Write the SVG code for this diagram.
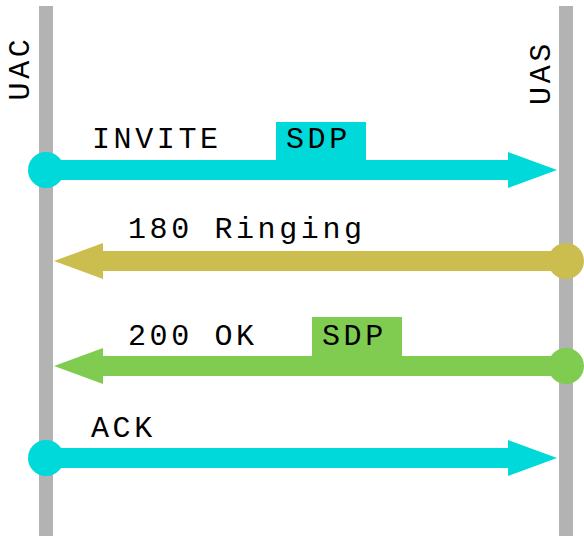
<svg xmlns="http://www.w3.org/2000/svg" width="584" height="536" viewBox="0 0 584 536">
<style>
.life{fill:#b3b3b3}
.t{font-family:"Liberation Mono","Courier New",monospace;font-size:30px;letter-spacing:3.6px;fill:#000}
.cy{fill:#00d9d9}
.ol{fill:#ccbd4f}
.gr{fill:#80cc50}
</style>
<rect width="584" height="536" fill="#fff"/>
<g id="uac">
<rect class="life" x="39" y="6" width="14" height="530"/>
<text class="t" text-anchor="middle" transform="translate(29,68) rotate(-90)">UAC</text>
</g>
<g id="uas">
<rect class="life" x="559" y="6" width="14" height="530"/>
<text class="t" text-anchor="middle" transform="translate(550,72.5) rotate(-90)">UAS</text>
</g>
<g id="connectors">
<g id="invite">
<rect class="cy" x="276" y="122" width="90" height="40"/>
<circle class="cy" cx="46" cy="170" r="18"/>
<rect class="cy" x="46" y="160" width="463" height="20"/>
<polygon class="cy" points="508,152 557,170 508,188"/>
<text class="t" x="92" y="148">INVITE</text>
<text class="t" x="286" y="148">SDP</text>
</g>
<g id="ringing">
<circle class="ol" cx="566" cy="261" r="18"/>
<rect class="ol" x="102" y="251" width="464" height="20"/>
<polygon class="ol" points="103,243 54,261 103,279"/>
<text class="t" x="128" y="238">180 Ringing</text>
</g>
<g id="ok">
<rect class="gr" x="312" y="317" width="90" height="40"/>
<circle class="gr" cx="566" cy="366" r="18"/>
<rect class="gr" x="102" y="356" width="464" height="20"/>
<polygon class="gr" points="103,348 54,366 103,384"/>
<text class="t" x="128" y="345">200 OK</text>
<text class="t" x="322" y="345">SDP</text>
</g>
<g id="ack">
<circle class="cy" cx="46" cy="458" r="18"/>
<rect class="cy" x="46" y="448" width="463" height="20"/>
<polygon class="cy" points="508,440 557,458 508,476"/>
<text class="t" x="91" y="437">ACK</text>
</g>
</g>
</svg>
